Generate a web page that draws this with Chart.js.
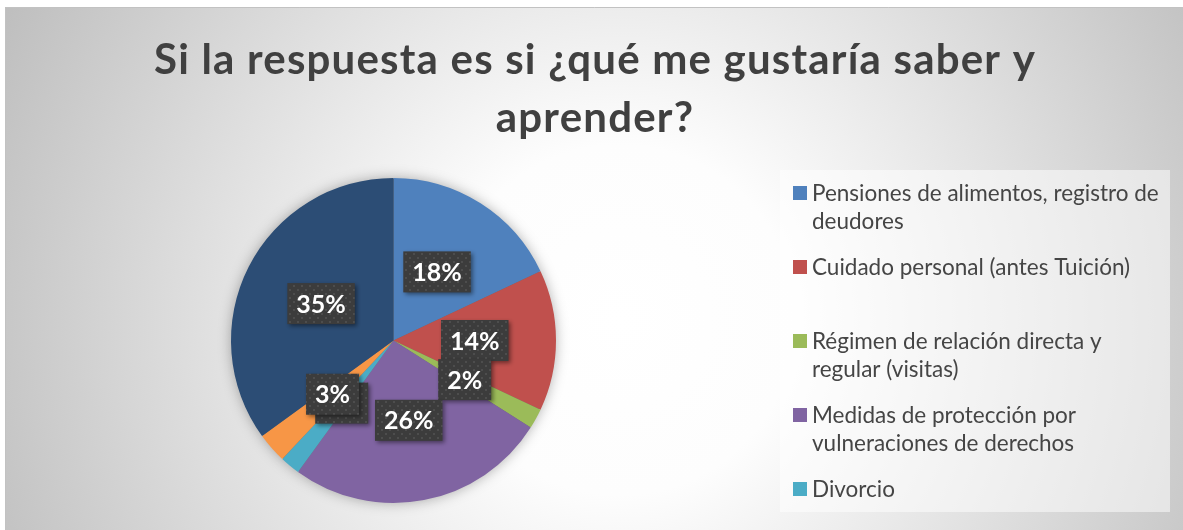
<!DOCTYPE html>
<html>
<head>
<meta charset="utf-8">
<script src="https://cdn.jsdelivr.net/npm/chart.js@4.4.0/dist/chart.umd.min.js"></script>
<style>
  html, body { margin: 0; padding: 0; background: #ffffff; }
  #wrap { width: 1183px; height: 530px; }
</style>
</head>
<body>
<div id="wrap"><canvas id="chart" width="1183" height="530"></canvas></div>
<script>
// Data (percent of answers)
const categories = [
    'Pensiones de alimentos, registro de deudores',
    'Cuidado personal (antes Tuición)',
    'Régimen de relación directa y regular (visitas)',
    'Medidas de protección por vulneraciones de derechos',
    'Divorcio',
    'Categoría 6',
    'Categoría 7'
];
const percentages = [18, 14, 2, 26, 2, 3, 35];
const sliceColors = ['#4f81bd', '#c0504d', '#9bbb59', '#8064a2', '#4bacc6', '#f79646', '#2c4d75'];
const titleLines = ['Si la respuesta es si ¿qué me gustaría saber y', 'aprender?'];

const FONT = 'Lato, "Open Sans", sans-serif';

// dotted dark fill used by the data label boxes
function makeLabelPattern(ctx) {
    const c = document.createElement('canvas');
    c.width = 8; c.height = 8;
    const p = c.getContext('2d');
    p.fillStyle = '#3c3c3c';
    p.fillRect(0, 0, 8, 8);
    p.fillStyle = '#4d4d4d';
    p.fillRect(1, 1, 2, 2);
    p.fillRect(5, 5, 2, 2);
    return ctx.createPattern(c, 'repeat');
}

function wrapText(ctx, text, maxWidth) {
    const words = text.split(' ');
    const lines = [];
    let line = '';
    words.forEach(w => {
        const test = line ? line + ' ' + w : w;
        if (line && ctx.measureText(test).width > maxWidth) {
            lines.push(line);
            line = w;
        } else {
            line = test;
        }
    });
    if (line) lines.push(line);
    return lines;
}

const excelLook = {
    id: 'excelLook',
    beforeDraw(chart) {
        const ctx = chart.ctx;
        const w = chart.width, h = chart.height;
        ctx.save();
        const g = ctx.createRadialGradient(620, 320, 0, 620, 320, 700);
        g.addColorStop(0, '#ffffff');
        g.addColorStop(0.25, '#fdfdfd');
        g.addColorStop(1, '#bdbdbd');
        ctx.fillStyle = g;
        ctx.fillRect(5, 7, w - 5, h - 7);
        ctx.strokeStyle = '#c2c2c2';
        ctx.lineWidth = 1;
        ctx.beginPath();
        ctx.moveTo(5.5, h);
        ctx.lineTo(5.5, 7.5);
        ctx.lineTo(w, 7.5);
        ctx.stroke();

        // title
        ctx.fillStyle = '#404040';
        ctx.font = 'bold 42px ' + FONT;
        if ('letterSpacing' in ctx) ctx.letterSpacing = '1.2px';
        ctx.textAlign = 'center';
        ctx.textBaseline = 'alphabetic';
        titleLines.forEach((t, i) => ctx.fillText(t, 595, 74 + i * 58));
        if ('letterSpacing' in ctx) ctx.letterSpacing = '0px';

        // legend box
        ctx.fillStyle = 'rgba(255,255,255,0.5)';
        ctx.fillRect(780, 170, 390, 342);
        ctx.restore();
    },
    beforeDatasetsDraw(chart) {
        // soft shadow under the pie
        const arc = chart.getDatasetMeta(0).data[0];
        const ctx = chart.ctx;
        ctx.save();
        ctx.shadowColor = 'rgba(0,0,0,0.35)';
        ctx.shadowBlur = 14;
        ctx.fillStyle = '#6b6b6b';
        ctx.beginPath();
        ctx.arc(arc.x, arc.y, arc.outerRadius - 1, 0, Math.PI * 2);
        ctx.fill();
        ctx.restore();
    },
    afterDatasetsDraw(chart) {
        const ctx = chart.ctx;
        const pattern = makeLabelPattern(ctx);
        const meta = chart.getDatasetMeta(0);
        ctx.save();
        ctx.font = 'bold 25px ' + FONT;
        ctx.textAlign = 'center';
        ctx.textBaseline = 'middle';
        meta.data.forEach((arc, i) => {
            const pos = arc.tooltipPosition();
            const text = percentages[i] + '%';
            const bw = ctx.measureText(text).width + 18;
            const bh = 41;
            ctx.save();
            ctx.shadowColor = 'rgba(0,0,0,0.45)';
            ctx.shadowBlur = 4;
            ctx.shadowOffsetX = 2;
            ctx.shadowOffsetY = 2;
            ctx.fillStyle = pattern;
            ctx.fillRect(pos.x - bw / 2, pos.y - bh / 2, bw, bh);
            ctx.restore();
            ctx.fillStyle = '#ffffff';
            ctx.fillText(text, pos.x, pos.y + 1);
        });
        ctx.restore();
    },
    afterDraw(chart) {
        // legend, clipped to its box like the original
        const ctx = chart.ctx;
        ctx.save();
        ctx.beginPath();
        ctx.rect(780, 170, 390, 342);
        ctx.clip();
        ctx.font = '22.5px ' + FONT;
        ctx.textAlign = 'left';
        ctx.textBaseline = 'alphabetic';
        categories.forEach((label, i) => {
            const top = 186 + i * 74;
            ctx.fillStyle = sliceColors[i];
            ctx.fillRect(793, top, 14, 14);
            ctx.fillStyle = '#454545';
            wrapText(ctx, label, 356).forEach((line, j) => {
                ctx.fillText(line, 812, top + 15 + j * 28);
            });
        });
        ctx.restore();
    }
};

new Chart(document.getElementById('chart'), {
    type: 'pie',
    data: {
        labels: categories,
        datasets: [{
            data: percentages,
            backgroundColor: sliceColors,
            borderColor: sliceColors,
            borderWidth: 0
        }]
    },
    options: {
        responsive: false,
        animation: false,
        layout: {
            padding: { left: 231, right: 627, top: 178, bottom: 27 }
        },
        plugins: {
            legend: { display: false },
            title: { display: false },
            tooltip: { enabled: false }
        }
    },
    plugins: [excelLook]
});
</script>
</body>
</html>
